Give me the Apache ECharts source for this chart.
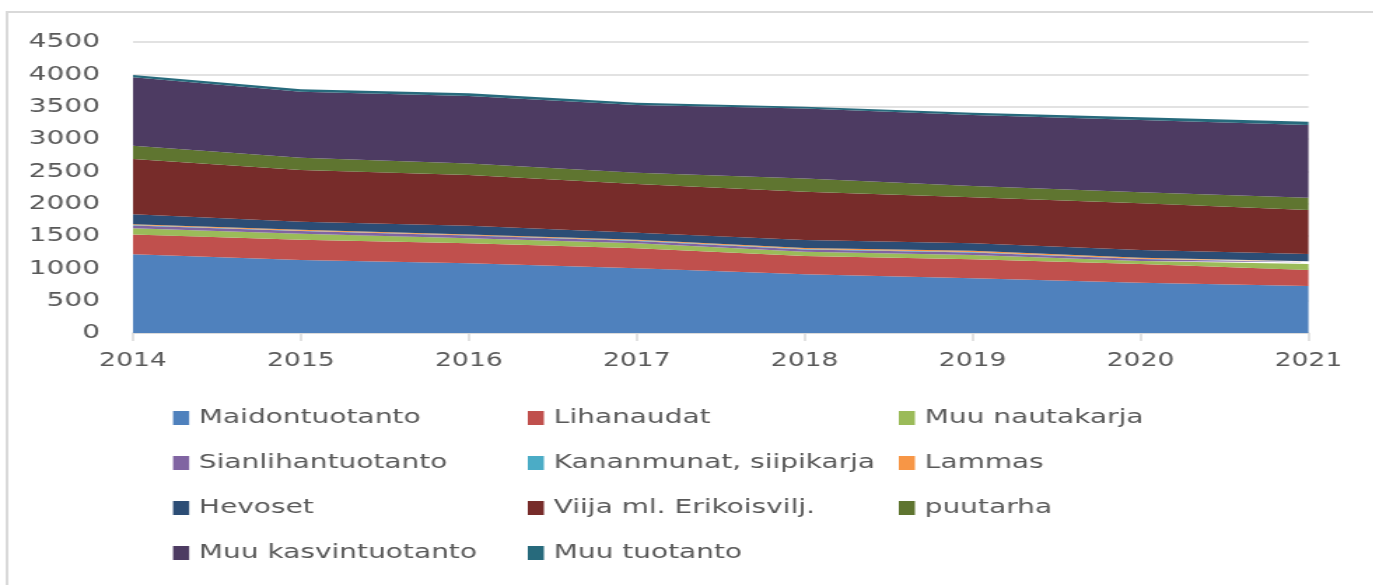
<!DOCTYPE html>
<html>
<head>
<meta charset="utf-8">
<title>Tuotantosuunnat 2014–2021</title>
<script src="https://cdn.jsdelivr.net/npm/echarts@6/dist/echarts.min.js"></script>
<style>
  html, body { margin: 0; padding: 0; background: #fff; overflow: hidden; }
  /* the reference is an Excel chart stretched sideways, so draw narrow and stretch */
  #chart { width: 981.4px; height: 585px; transform: scaleX(1.4); transform-origin: 0 0; }
</style>
</head>
<body>
<div id="chart"></div>
<script>
// 年份与各层数值（自下而上堆叠）
const years = ['2014', '2015', '2016', '2017', '2018', '2019', '2020', '2021'];
const maidontuotanto = [1217, 1129, 1077, 1000, 907, 845, 778, 727];
const lihanaudat = [305, 312, 310, 309, 283, 294, 289, 247];
const muuNautakarja = [98, 95, 77, 78, 67, 67, 46, 93];
const sianlihantuotanto = [44, 41, 42, 37, 36, 40, 32, 26];
const kananmunat = [5, 5, 5, 5, 5, 5, 5, 5];
const lammas = [13, 13, 14, 14, 16, 19, 15, 12];
const hevoset = [155, 126, 134, 108, 126, 117, 118, 111];
const viija = [853, 799, 784, 752, 745, 711, 722, 681];
const puutarha = [206, 191, 180, 175, 206, 175, 170, 190];
const muuKasvintuotanto = [1057, 1020, 1041, 1047, 1082, 1097, 1118, 1124];
const muuTuotanto = [36, 37, 42, 36, 27, 36, 42, 51];
const yTicks = [0, 500, 1000, 1500, 2000, 2500, 3000, 3500, 4000, 4500];

const layers = [
  { name: 'Maidontuotanto', data: maidontuotanto, color: '#4F81BD' },
  { name: 'Lihanaudat', data: lihanaudat, color: '#C0504D' },
  { name: 'Muu nautakarja', data: muuNautakarja, color: '#9BBB59' },
  { name: 'Sianlihantuotanto', data: sianlihantuotanto, color: '#8064A2' },
  { name: 'Kananmunat, siipikarja', data: kananmunat, color: '#4BACC6' },
  { name: 'Lammas', data: lammas, color: '#F79646' },
  { name: 'Hevoset', data: hevoset, color: '#2C4D75' },
  { name: 'Viija ml. Erikoisvilj.', data: viija, color: '#772C2A' },
  { name: 'puutarha', data: puutarha, color: '#5F7530' },
  { name: 'Muu kasvintuotanto', data: muuKasvintuotanto, color: '#4D3B62' },
  { name: 'Muu tuotanto', data: muuTuotanto, color: '#276A7C' },
];

const FONT = 'DejaVu Sans';
const TEXT = '#595959';
const GRID = '#d9d9d9';

// legend columns: same layout as the Excel legend (3 columns, 4 rows)
const legendColumn = (left, names) => ({
  orient: 'vertical',
  left,
  top: 406,
  padding: 0,
  itemGap: 21,
  itemWidth: 11.5,
  itemHeight: 14,
  icon: 'rect',
  data: names,
  textStyle: { fontFamily: FONT, fontSize: 20, color: TEXT, lineHeight: 24, padding: [0, 0, 0, 2] },
});

const chart = echarts.init(document.getElementById('chart'));
chart.setOption({
  animation: false,
  color: layers.map((l) => l.color),
  graphic: [
    {
      type: 'rect',
      shape: { x: 5, y: 12, width: 2000, height: 1000 },
      style: { fill: 'none', stroke: GRID, lineWidth: 2 },
      silent: true,
    },
  ],
  legend: [
    legendColumn(123.6, ['Maidontuotanto', 'Sianlihantuotanto', 'Hevoset', 'Muu kasvintuotanto']),
    legendColumn(377, ['Lihanaudat', 'Kananmunat, siipikarja', 'Viija ml. Erikoisvilj.', 'Muu tuotanto']),
    legendColumn(642, ['Muu nautakarja', 'Lammas', 'puutarha']),
  ],
  grid: { left: 95, right: 46.4, top: 42, bottom: 252, containLabel: false },
  xAxis: {
    type: 'category',
    data: years,
    boundaryGap: false,
    axisLine: { lineStyle: { color: GRID, width: 1.5 } },
    axisTick: { show: true, length: 8, lineStyle: { color: GRID, width: 1.5 } },
    axisLabel: { fontFamily: FONT, fontSize: 19, color: TEXT, margin: 19 },
    splitLine: { show: false },
  },
  yAxis: {
    type: 'value',
    min: yTicks[0],
    max: yTicks[yTicks.length - 1],
    interval: 500,
    axisLine: { show: false },
    axisTick: { show: false },
    axisLabel: {
      fontFamily: FONT,
      fontSize: 20,
      color: TEXT,
      margin: 23.6,
      formatter: (v) => String(v),
    },
    splitLine: { lineStyle: { color: GRID, width: 1.5 } },
  },
  series: layers.map((l) => ({
    name: l.name,
    type: 'line',
    stack: 'total',
    data: l.data,
    symbol: 'none',
    lineStyle: { width: 0, opacity: 0 },
    areaStyle: { color: l.color, opacity: 1 },
    itemStyle: { color: l.color },
  })),
});
</script>
</body>
</html>
